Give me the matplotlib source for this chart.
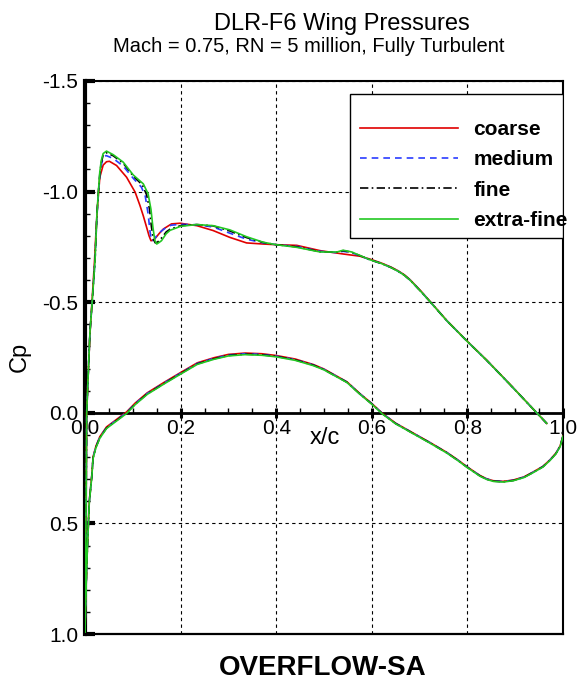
import numpy as np
import matplotlib
matplotlib.use("Agg")
import matplotlib.pyplot as plt
from matplotlib.patches import Rectangle
from matplotlib.ticker import MultipleLocator, FormatStrFormatter

plt.rcParams["font.family"] = ["Liberation Sans", "DejaVu Sans"]
plt.rcParams["axes.unicode_minus"] = False

# ========== Data ==========
grids = ["coarse", "medium", "fine", "extra-fine"]

# lower surface, trailing edge -> leading edge (shared stations)
lower_x = [1.0, 0.994, 0.985, 0.973, 0.958, 0.938, 0.918, 0.896, 0.875, 0.854, 0.84, 0.826,
           0.80, 0.78, 0.757, 0.72, 0.687, 0.65, 0.622, 0.60, 0.575, 0.548, 0.50, 0.478,
           0.44, 0.40, 0.37, 0.335, 0.30, 0.27, 0.235, 0.20, 0.165, 0.13, 0.105, 0.087,
           0.066, 0.045, 0.031, 0.023, 0.017, 0.014, 0.009, 0.005, 0.002, 0.0]
lower_cp_coarse = [0.104, 0.150, 0.183, 0.212, 0.242, 0.267, 0.290, 0.304, 0.310, 0.307, 0.298, 0.283,
                   0.245, 0.213, 0.179, 0.132, 0.092, 0.047, 0.002, -0.042, -0.087, -0.140, -0.198, -0.218,
                   -0.243, -0.259, -0.267, -0.270, -0.264, -0.249, -0.226, -0.182, -0.137, -0.090, -0.044, -0.004,
                   0.030, 0.064, 0.108, 0.150, 0.198, 0.288, 0.398, 0.608, 0.798, 1.0]
lower_cp_medium = [0.105, 0.151, 0.184, 0.213, 0.243, 0.268, 0.291, 0.305, 0.311, 0.308, 0.299, 0.284,
                   0.246, 0.214, 0.180, 0.133, 0.093, 0.048, 0.003, -0.041, -0.086, -0.139, -0.196, -0.216,
                   -0.240, -0.256, -0.264, -0.267, -0.261, -0.246, -0.223, -0.179, -0.134, -0.087, -0.041, -0.001,
                   0.033, 0.067, 0.111, 0.153, 0.201, 0.291, 0.401, 0.611, 0.801, 1.0]
lower_cp_fine = [0.106, 0.152, 0.185, 0.214, 0.244, 0.269, 0.292, 0.306, 0.312, 0.309, 0.300, 0.285,
                 0.247, 0.215, 0.181, 0.134, 0.094, 0.049, 0.004, -0.040, -0.085, -0.138, -0.195, -0.215,
                 -0.239, -0.255, -0.262, -0.265, -0.259, -0.244, -0.221, -0.177, -0.132, -0.085, -0.039, 0.001,
                 0.035, 0.069, 0.113, 0.155, 0.203, 0.293, 0.403, 0.613, 0.803, 1.0]
lower_cp_xfine = [0.106, 0.153, 0.186, 0.215, 0.245, 0.270, 0.293, 0.307, 0.313, 0.310, 0.301, 0.286,
                  0.248, 0.216, 0.182, 0.135, 0.095, 0.050, 0.005, -0.039, -0.084, -0.137, -0.194, -0.213,
                  -0.237, -0.253, -0.260, -0.263, -0.257, -0.242, -0.219, -0.175, -0.130, -0.083, -0.037, 0.003,
                  0.037, 0.071, 0.115, 0.157, 0.205, 0.295, 0.405, 0.615, 0.805, 1.0]

# upper surface, leading edge -> trailing edge
upper_x_coarse = [0.002, 0.0035, 0.007, 0.0105, 0.016, 0.020, 0.023, 0.026, 0.031, 0.038,
                  0.045, 0.051, 0.066, 0.087, 0.105, 0.115, 0.122, 0.129, 0.134, 0.138,
                  0.142, 0.146, 0.155, 0.164, 0.181, 0.199, 0.234, 0.268, 0.303, 0.338,
                  0.373, 0.400, 0.443, 0.492, 0.540, 0.575, 0.596, 0.62, 0.64, 0.655,
                  0.668, 0.68, 0.692, 0.705, 0.722, 0.757, 0.800, 0.840, 0.889, 0.945, 0.966]
upper_cp_coarse = [0.50, 0.0, -0.19, -0.36, -0.55, -0.69, -0.82, -0.93, -1.065, -1.12,
                   -1.135, -1.137, -1.118, -1.065, -0.997, -0.937, -0.89, -0.838, -0.80, -0.778,
                   -0.780, -0.786, -0.810, -0.831, -0.854, -0.857, -0.846, -0.824, -0.793, -0.768,
                   -0.763, -0.760, -0.757, -0.733, -0.718, -0.708, -0.695, -0.677, -0.659, -0.642,
                   -0.624, -0.602, -0.575, -0.545, -0.503, -0.417, -0.323, -0.239, -0.129, 0.0, 0.048]

upper_x_medium = [0.002, 0.0035, 0.007, 0.0105, 0.015, 0.021, 0.025, 0.028, 0.031, 0.034,
                  0.038, 0.044, 0.059, 0.080, 0.101, 0.118, 0.126, 0.132, 0.136, 0.139,
                  0.143, 0.150, 0.160, 0.170, 0.180, 0.200, 0.234, 0.268, 0.303, 0.338,
                  0.373, 0.400, 0.443, 0.492, 0.527, 0.540, 0.558, 0.596, 0.62, 0.64, 0.655,
                  0.668, 0.68, 0.692, 0.705, 0.722, 0.757, 0.800, 0.840, 0.889, 0.945, 0.966]
upper_cp_medium = [0.50, 0.0, -0.19, -0.37, -0.50, -0.69, -0.89, -0.99, -1.07, -1.12,
                   -1.152, -1.163, -1.150, -1.115, -1.060, -1.020, -0.980, -0.900, -0.820, -0.778,
                   -0.780, -0.800, -0.822, -0.838, -0.848, -0.852, -0.850, -0.840, -0.812, -0.785,
                   -0.768, -0.760, -0.752, -0.730, -0.724, -0.730, -0.724, -0.692, -0.675, -0.657, -0.640,
                   -0.622, -0.600, -0.573, -0.543, -0.502, -0.416, -0.322, -0.238, -0.128, 0.0, 0.048]

upper_x_fine = [0.002, 0.0035, 0.007, 0.0105, 0.015, 0.021, 0.025, 0.028, 0.031, 0.034,
                0.038, 0.044, 0.059, 0.080, 0.101, 0.120, 0.129, 0.135, 0.139, 0.143,
                0.147, 0.152, 0.160, 0.170, 0.178, 0.200, 0.234, 0.268, 0.303, 0.338,
                0.373, 0.400, 0.443, 0.492, 0.527, 0.540, 0.558, 0.596, 0.62, 0.64, 0.655,
                0.668, 0.68, 0.692, 0.705, 0.722, 0.757, 0.800, 0.840, 0.889, 0.945, 0.966]
upper_cp_fine = [0.50, 0.0, -0.19, -0.37, -0.50, -0.69, -0.90, -1.00, -1.08, -1.13,
                 -1.165, -1.176, -1.162, -1.128, -1.070, -1.030, -0.985, -0.920, -0.840, -0.785,
                 -0.768, -0.772, -0.790, -0.818, -0.830, -0.846, -0.851, -0.845, -0.822, -0.792,
                 -0.770, -0.760, -0.750, -0.728, -0.726, -0.733, -0.726, -0.692, -0.675, -0.657, -0.640,
                 -0.622, -0.600, -0.573, -0.543, -0.502, -0.416, -0.322, -0.238, -0.128, 0.0, 0.048]

upper_x_xfine = [0.002, 0.0035, 0.007, 0.0105, 0.015, 0.021, 0.025, 0.028, 0.031, 0.034,
                 0.038, 0.045, 0.059, 0.080, 0.101, 0.122, 0.132, 0.138, 0.142, 0.146,
                 0.150, 0.155, 0.160, 0.170, 0.178, 0.200, 0.234, 0.268, 0.303, 0.338,
                 0.373, 0.400, 0.443, 0.492, 0.527, 0.540, 0.558, 0.596, 0.62, 0.64, 0.655,
                 0.668, 0.68, 0.692, 0.705, 0.722, 0.757, 0.800, 0.840, 0.889, 0.945, 0.966]
upper_cp_xfine = [0.50, 0.0, -0.19, -0.37, -0.50, -0.69, -0.90, -1.00, -1.09, -1.14,
                  -1.172, -1.183, -1.167, -1.133, -1.075, -1.035, -0.990, -0.920, -0.840, -0.780,
                  -0.763, -0.770, -0.778, -0.810, -0.825, -0.843, -0.851, -0.846, -0.827, -0.796,
                  -0.771, -0.760, -0.748, -0.727, -0.727, -0.735, -0.727, -0.692, -0.675, -0.657, -0.640,
                  -0.622, -0.600, -0.573, -0.543, -0.502, -0.416, -0.322, -0.238, -0.128, 0.0, 0.048]

lower_cp = [lower_cp_coarse, lower_cp_medium, lower_cp_fine, lower_cp_xfine]
upper_x = [upper_x_coarse, upper_x_medium, upper_x_fine, upper_x_xfine]
upper_cp = [upper_cp_coarse, upper_cp_medium, upper_cp_fine, upper_cp_xfine]

colors = ["#e00000", "#2a3cff", "black", "#22c822"]
dash_styles = [None, (4, 3), (5, 2, 1, 2), None]

# ========== Figure ==========
fig = plt.figure(figsize=(5.81, 6.87), dpi=100)
ax = fig.add_axes([85 / 581, 1 - 634 / 687, 478 / 581, 553 / 687])

for i, name in enumerate(grids):
    xs = np.concatenate([lower_x, upper_x[i]])
    cps = np.concatenate([lower_cp[i], upper_cp[i]])
    line, = ax.plot(xs, cps, color=colors[i], linewidth=1.2, label=name, zorder=3 + i)
    if dash_styles[i] is not None:
        line.set_dashes(dash_styles[i])

ax.set_xlim(0, 1.0)
ax.set_ylim(1.0, -1.5)

# x axis drawn through Cp = 0
ax.spines["bottom"].set_position(("data", 0))
ax.spines["bottom"].set_linewidth(2.0)
ax.spines["left"].set_linewidth(3.0)
ax.spines["top"].set_linewidth(1.5)
ax.spines["right"].set_linewidth(1.5)
ax.axhline(1.0, color="black", linewidth=1.6, clip_on=False, zorder=10)

ax.xaxis.set_major_locator(MultipleLocator(0.2))
ax.xaxis.set_minor_locator(MultipleLocator(0.05))
ax.yaxis.set_major_locator(MultipleLocator(0.5))
ax.yaxis.set_minor_locator(MultipleLocator(0.1))
ax.xaxis.set_major_formatter(FormatStrFormatter("%.1f"))
ax.yaxis.set_major_formatter(FormatStrFormatter("%.1f"))

ax.tick_params(axis="x", which="major", direction="inout", length=7, width=2.2,
               labelsize=15, pad=1)
ax.tick_params(axis="x", which="minor", direction="in", length=3.5, width=1.0)
ax.tick_params(axis="y", which="major", direction="in", length=7.5, width=3.0,
               labelsize=15, pad=5)
ax.tick_params(axis="y", which="minor", direction="in", length=3.5, width=1.0)

ax.grid(True, which="major", color="black", linestyle=(0, (3, 3)), linewidth=0.8)

# legend box
ax.add_patch(Rectangle((0.554, 0.716), 0.446, 0.26, transform=ax.transAxes,
                       facecolor="white", edgecolor="black", linewidth=1.0, zorder=20))
leg = ax.legend(loc="center left", bbox_to_anchor=(0.575, 0.830), frameon=False,
                borderpad=0, borderaxespad=0, handlelength=4.7, handletextpad=0.75,
                labelspacing=0.55, prop={"weight": "bold", "size": 15})
leg.set_zorder(21)

fig.text(341.7 / 581, 1 - 30 / 687, "DLR-F6 Wing Pressures", ha="center", va="baseline",
         fontsize=17)
fig.text(309 / 581, 1 - 52.5 / 687, "Mach = 0.75, RN = 5 million, Fully Turbulent",
         ha="center", va="baseline", fontsize=14.5)
fig.text(20 / 581, 1 - 357 / 687, "Cp", rotation=90, ha="center", va="center", fontsize=17)
fig.text(325 / 581, 1 - 438 / 687, "x/c", ha="center", va="center", fontsize=17)
fig.text(323 / 581, 1 - 668 / 687, "OVERFLOW-SA", ha="center", va="center",
         fontsize=20, fontweight="bold")

plt.savefig("out.png", dpi=100)
plt.close()
